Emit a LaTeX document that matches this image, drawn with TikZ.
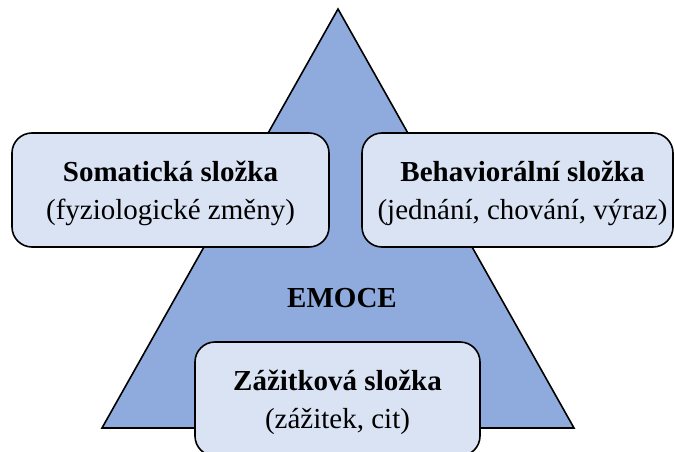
\documentclass[tikz,border=0pt]{standalone}
\usepackage{fontspec}
\setmainfont{Liberation Serif}
\usepackage{tikz}
\usepackage{xcolor}
\usetikzlibrary{shapes,positioning,calc}

\definecolor{trojuhelnik}{HTML}{8FAADC}
\definecolor{slozkafill}{HTML}{DAE3F3}

\begin{document}
\begin{tikzpicture}[x=1pt, y=-1pt,
        slozka/.style={draw=black, line width=1.6pt, rounded corners=20pt, fill=slozkafill,
            inner sep=0pt, align=center, minimum height=114pt, text depth=0pt,
            font=\rmfamily\fontsize{29}{38}\selectfont}]
        \useasboundingbox (0,0) rectangle (675,452);

        % pyramida
        \coordinate (vrchol) at (338,9);
        \coordinate (levy) at (102,428);
        \coordinate (pravy) at (574,428);
        \filldraw[fill=trojuhelnik, line width=1.6pt, line join=miter] (vrchol) -- (levy) -- (pravy) -- cycle;

        \node[font=\rmfamily\fontsize{29}{38}\selectfont\bfseries] (emoce) at (342,298) {EMOCE};

        % slozky
        \node[slozka, minimum width=317pt] (somaticka) at (170.5,190) {\textbf{Somatická složka}\\(fyziologické změny)};
        \node[slozka, minimum width=311pt] (behavioralni) at (517.5,190) {\hspace*{10pt}\textbf{Behaviorální složka}\\\hspace*{10pt}(jednání, chování, výraz)};
        \node[slozka, minimum width=285pt] (zazitkova) at (337.5,399) {\textbf{Zážitková složka}\\(zážitek, cit)};
    \end{tikzpicture}
\end{document}
